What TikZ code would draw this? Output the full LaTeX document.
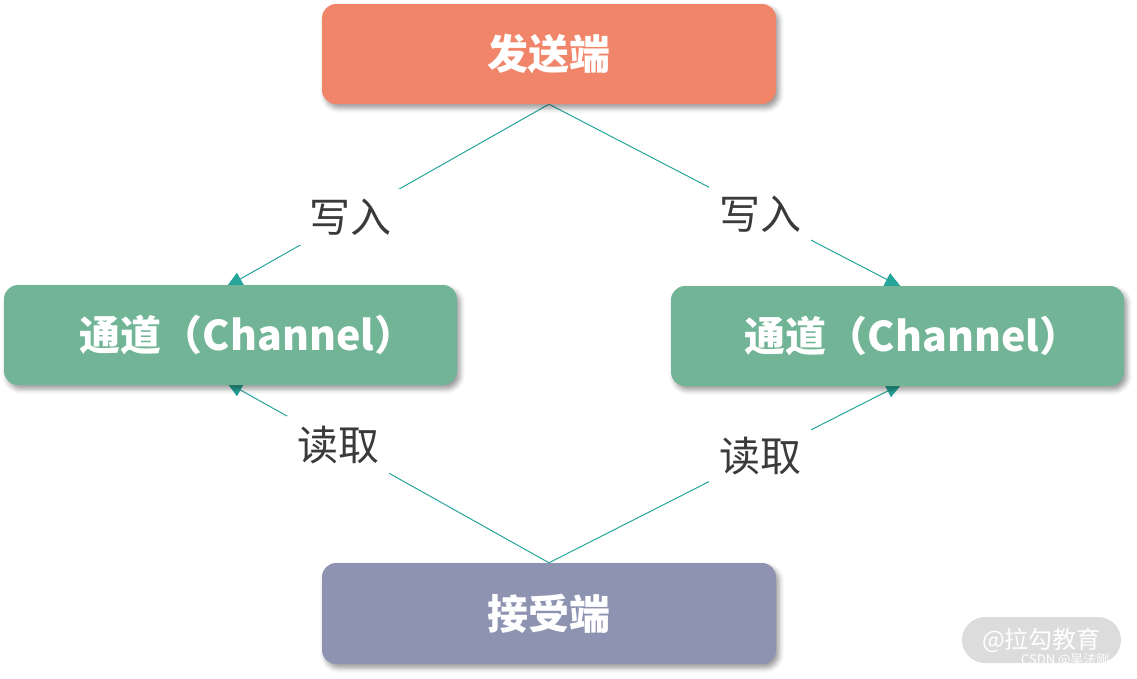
\documentclass[tikz,border=0pt]{standalone}
\usepackage{fontspec}
\setmainfont{Noto Sans CJK SC}
\usetikzlibrary{arrows.meta,shadows.blur,calc}
\pgfdeclarelayer{background}
\pgfsetlayers{background,main}
\definecolor{sendc}{HTML}{F0856A}
\definecolor{chanc}{HTML}{72B496}
\definecolor{recvc}{HTML}{8E93B1}
\definecolor{linkc}{HTML}{26A69A}
\definecolor{lblc}{HTML}{3A3A3A}
\definecolor{wmc}{HTML}{DCDCDC}
\tikzset{
  boxnode/.style={rectangle, rounded corners=14pt, inner sep=0pt,
    minimum width=454pt, minimum height=100pt, text=white,
    font=\bfseries\fontsize{41}{43}\selectfont,
    blur shadow={shadow xshift=3pt, shadow yshift=-4pt, shadow blur radius=5pt, shadow opacity=40}},
  linkline/.style={draw=linkc, line width=1pt, -{Triangle[length=16pt,width=14pt]}},
  lbl/.style={fill=white, inner sep=10pt, text=lblc, font=\fontsize{41}{43}\selectfont},
}
\begin{document}
\begin{tikzpicture}[x=1pt,y=-1pt]
\useasboundingbox (0,0) rectangle (1137,678);
\node[boxnode, fill=sendc] (snd) at (549,54) {发送端};
\node[boxnode, fill=chanc, minimum width=453pt] (lch) at (230.5,335) {\hspace*{34pt}通道（Channel）};
\node[boxnode, fill=chanc, minimum width=453pt] (rch) at (897.5,336) {\hspace*{30pt}通道（Channel）};
\node[boxnode, fill=recvc, minimum height=101pt] (rcv) at (549,613.5) {接受端};
\begin{pgfonlayer}{background}
\draw[linkline] (snd.south) -- node[lbl, pos=0.617] (w1) {写入} ($(lch.north)+(-4,2)$);
\draw[linkline] (snd.south) -- node[lbl, pos=0.6] (w2) {写入} ($(rch.north)+(3.5,1)$);
\draw[linkline] (rcv.north) -- node[lbl, pos=0.654] (r1) {读取} ($(lch.south)+(-4,-3)$);
\draw[linkline] (rcv.north) -- node[lbl, pos=0.598] (r2) {读取} ($(rch.south)+(4.5,-2.5)$);
\end{pgfonlayer}
\node[fill=wmc, rounded corners=23pt, minimum width=159pt, minimum height=46pt, inner sep=0pt,
  text=white, font=\fontsize{24}{26}\selectfont] (wm) at (1041.5,640) {@拉勾教育};
\node[text=white, inner sep=0pt, anchor=west, font=\fontsize{13}{14}\selectfont] (csdn) at (1021,660) {CSDN @吴法刚};
\end{tikzpicture}
\end{document}
